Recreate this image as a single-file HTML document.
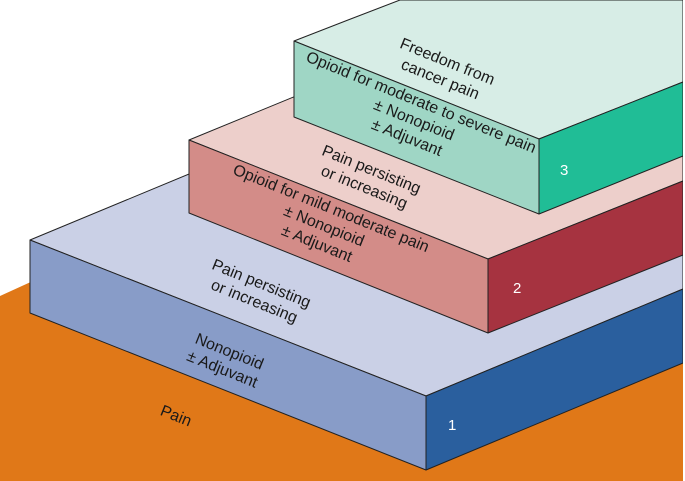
<!DOCTYPE html>
<html><head><meta charset="utf-8"><style>html,body{margin:0;padding:0;background:#fff}svg{display:block}</style></head>
<body>
<svg width="685" height="481" viewBox="0 0 685 481" xmlns="http://www.w3.org/2000/svg" font-family="Liberation Sans, sans-serif">
<polygon points="0,296 320,150 685,290 685,481 0,481" fill="#E07818"/>
<g stroke="#222" stroke-width="1" stroke-linejoin="round">
<polygon points="30,240 230,157 683,157 683,289 426,396" fill="#CAD0E6"/>
<polygon points="30,240 426,396 426,470 30,313" fill="#889CC8"/>
<polygon points="426,396 683,289 683,363 426,470" fill="#2A5F9E"/>
<polygon points="189,140 420,45 683,45 683,181 488,259" fill="#EDCFCB"/>
<polygon points="189,140 488,259 488,333 189,213" fill="#D38C88"/>
<polygon points="488,259 683,181 683,255 488,333" fill="#A63340"/>
<polygon points="294,41 348,20 400,0 683,0 683,82 539,139" fill="#D7EDE6"/>
<polygon points="294,41 539,139 539,214 294,117" fill="#9FD6C5"/>
<polygon points="539,139 683,82 683,156 539,214" fill="#20BD96"/>
</g>
<rect x="683" y="0" width="2" height="481" fill="#fff"/>
<g font-size="16" fill="#1a1a1a" text-anchor="middle">
<text transform="rotate(22 176 416)" x="176" y="421">Pain</text>
<g transform="rotate(22 226 360)"><text x="226" y="356">Nonopioid</text><text x="226" y="375">± Adjuvant</text></g>
<g transform="rotate(22 258 292)"><text x="258" y="288">Pain persisting</text><text x="258" y="307">or increasing</text></g>
<g transform="rotate(22 324 226)"><text x="324" y="212">Opioid for mild moderate pain</text><text x="324" y="231">± Nonopioid</text><text x="324" y="250">± Adjuvant</text></g>
<g transform="rotate(22 368 178)"><text x="368" y="174">Pain persisting</text><text x="368" y="193">or increasing</text></g>
<g transform="rotate(22 414 120)"><text x="414" y="106">Opioid for moderate to severe pain</text><text x="414" y="125">± Nonopioid</text><text x="414" y="144">± Adjuvant</text></g>
<g transform="rotate(22 444 70)"><text x="444" y="66">Freedom from</text><text x="444" y="85">cancer pain</text></g>
</g>
<g font-size="15" fill="#fff">
<text x="448" y="430">1</text><text x="513" y="293">2</text><text x="560" y="175">3</text>
</g>
</svg>
</body></html>
